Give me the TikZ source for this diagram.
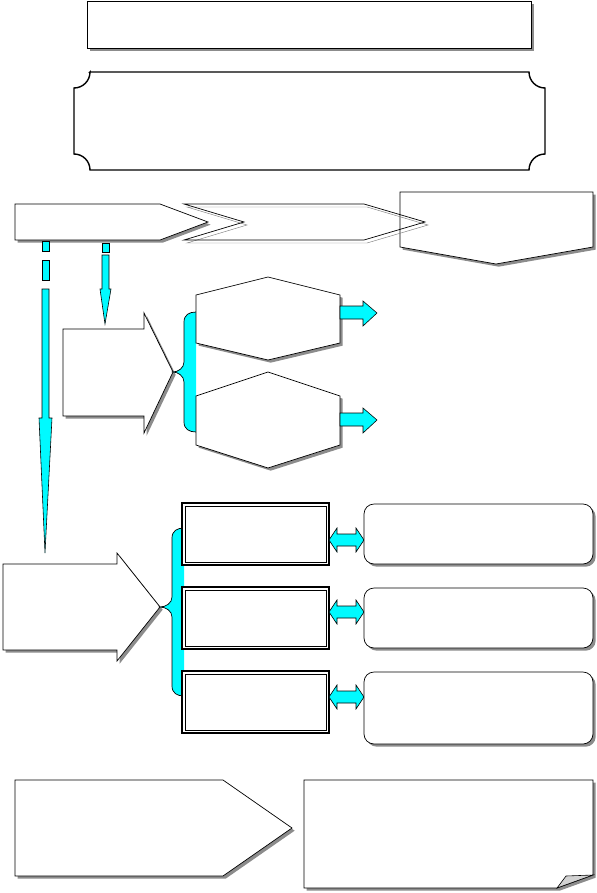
\documentclass[tikz,border=0pt]{standalone}
\usepackage{xcolor}
\usepackage{tikz}
\usetikzlibrary{shadows}
\definecolor{aqua}{RGB}{0,250,255}

\begin{document}
\begin{tikzpicture}[
        x=0.03cm, y=-0.03cm,
        shadowed/.style={drop shadow={shadow xshift=0.08cm, shadow yshift=-0.08cm, fill=gray!90, opacity=1}},
        plainbox/.style={draw, line width=0.6pt, fill=white, shadowed},
        bluearrow/.style={draw, line width=0.5pt, fill=aqua},
        braceline/.style={draw, line width=0.6pt},
        framebox/.style={draw, line width=1.2pt, fill=white}
    ]
        \useasboundingbox (0,0) rectangle (597,893);
        % top
        \draw[plainbox] (87,1) rectangle (531,48);
        \draw[line width=1.2pt] (90,72) -- (529,72) arc[start angle=180, end angle=270, radius=0.48cm]
            -- (545,154) arc[start angle=90, end angle=180, radius=0.48cm]
            -- (90,170) arc[start angle=0, end angle=90, radius=0.48cm]
            -- (74,88) arc[start angle=270, end angle=360, radius=0.48cm] -- cycle;
        % process row
        \draw[plainbox] (400,192) -- (593,192) -- (593,247) -- (496,264) -- (400,247) -- cycle;
        \draw[plainbox] (15,204) -- (160,204) -- (208,222) -- (160,240) -- (15,240) -- cycle;
        \draw[gray, line width=0.4pt, shift={(3,3)}] (184,204) -- (364,204) -- (425,222) -- (364,240) -- (184,240) -- (244,222) -- cycle;
        \draw[line width=0.6pt] (184,204) -- (364,204) -- (425,222) -- (364,240) -- (184,240) -- (244,222) -- cycle;
        % down arrows
        \draw[bluearrow] (42,241) rectangle (49,251);
        \draw[bluearrow] (42,260) rectangle (49,280);
        \draw[bluearrow] (42,289) -- (42,418) -- (39,418) -- (45,553) -- (52,418) -- (49,418) -- (49,289) -- cycle;
        \draw[bluearrow] (102,243) rectangle (109,252);
        \draw[bluearrow] (102,255) -- (102,289) -- (100,289) -- (105,324) -- (111,289) -- (109,289) -- (109,255) -- cycle;
        % first branch
        \draw[plainbox] (63,329) -- (144,329) -- (144,313) -- (173,372) -- (144,433) -- (144,416) -- (63,416) -- cycle;
        \fill[aqua] (196,312) .. controls (189,312) and (184,315) .. (184,322) -- (184,362)
            .. controls (184,368) and (178,372) .. (173,372) .. controls (178,372) and (184,376) .. (184,382)
            -- (184,422) .. controls (184,429) and (189,432) .. (196,432) -- cycle;
        \draw[braceline] (196,312) .. controls (189,312) and (184,315) .. (184,322) -- (184,362)
            .. controls (184,368) and (178,372) .. (173,372) .. controls (178,372) and (184,376) .. (184,382)
            -- (184,422) .. controls (184,429) and (189,432) .. (196,432);
        \draw[plainbox] (196,295) -- (268,277) -- (340,295) -- (340,343) -- (268,360) -- (196,343) -- cycle;
        \draw[plainbox] (196,396) -- (268,372) -- (340,396) -- (340,445) -- (268,468) -- (196,445) -- cycle;
        \foreach \dy in {0,107}
            \draw[bluearrow, shift={(0,\dy)}] (340,306) -- (363,306) -- (363,301) -- (377,313) -- (363,326) -- (363,319) -- (340,319) -- cycle;
        % second branch
        \draw[plainbox] (3,564) -- (117,564) -- (117,553) -- (160,607) -- (117,661) -- (117,650) -- (3,650) -- cycle;
        \fill[aqua] (184,528) .. controls (177,528) and (172,531) .. (172,538) -- (172,597)
            .. controls (172,603) and (166,607) .. (160,607) .. controls (166,607) and (172,611) .. (172,617)
            -- (172,686) .. controls (172,693) and (177,696) .. (184,696) -- cycle;
        \draw[braceline] (184,528) .. controls (177,528) and (172,531) .. (172,538) -- (172,597)
            .. controls (172,603) and (166,607) .. (160,607) .. controls (166,607) and (172,611) .. (172,617)
            -- (172,686) .. controls (172,693) and (177,696) .. (184,696);
        \foreach \t/\b/\m in {503/565/540, 587/649/612, 671/733/697} {
            \draw[framebox] (182,\t) rectangle (329,\b);
            \draw[line width=0.4pt] (184.8,{\t+2.8}) rectangle (326.2,{\b-2.8});
            \draw[bluearrow] (329,\m) -- (337,{\m-12}) -- (337,{\m-6}) -- (356,{\m-6}) -- (356,{\m-12}) -- (364,\m)
                -- (356,{\m+12}) -- (356,{\m+6}) -- (337,{\m+6}) -- (337,{\m+12}) -- cycle;
        }
        \foreach \t/\b in {504/564, 588/648, 672/744}
            \draw[plainbox, rounded corners=0.3cm] (364,\t) rectangle (593,\b);
        % bottom
        \draw[plainbox] (15,780) -- (223,780) -- (292,828) -- (223,876) -- (15,876) -- cycle;
        \draw[plainbox] (304,780) -- (593,780) -- (593,875) -- (557,888) -- (304,888) -- cycle;
        \draw[line width=0.5pt, fill=gray!35] (557,888) -- (566,876) -- (593,875) -- cycle;
    \end{tikzpicture}
\end{document}
